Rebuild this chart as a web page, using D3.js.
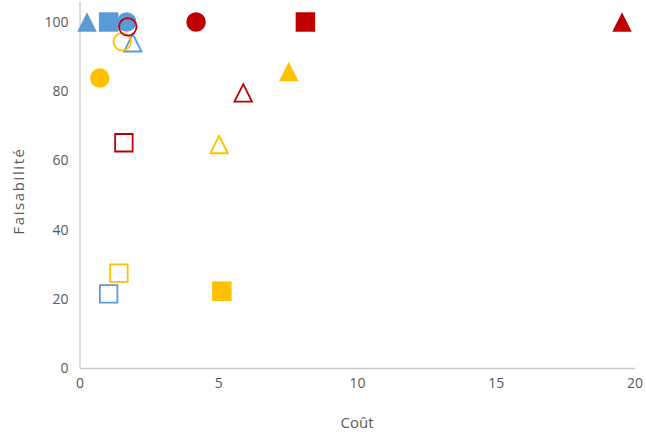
<!DOCTYPE html>
<html>
<head>
<meta charset="utf-8">
<script src="https://cdn.jsdelivr.net/npm/d3@7"></script>
<style>
  html, body { margin: 0; padding: 0; background: #fff; }
  svg { display: block; }
</style>
</head>
<body>
<svg id="chart" width="646" height="432"></svg>
<script>
// ---- Data ----
const xTicks = [0, 5, 10, 15, 20];
const yTicks = [0, 20, 40, 60, 80, 100];
const xTitle = "Coût";
const yTitle = "Faisabilité";

const bleuX      = [0.27, 1.05, 1.70, 1.92, 1.05];
const bleuY      = [100, 100, 100, 94.0, 21.4];
const bleuShape  = ["triangle", "square", "circle", "triangle", "square"];
const bleuFilled = [true, true, true, false, false];

const jauneX      = [0.73, 1.54, 1.42, 5.13, 5.03, 7.54];
const jauneY      = [83.8, 94.3, 27.4, 22.2, 64.6, 85.7];
const jauneShape  = ["circle", "circle", "square", "square", "triangle", "triangle"];
const jauneFilled = [true, false, false, true, false, true];

const rougeX      = [1.74, 4.20, 8.14, 5.90, 1.60, 19.55];
const rougeY      = [98.6, 100, 100, 79.5, 65.1, 100];
const rougeShape  = ["circle", "circle", "square", "triangle", "square", "triangle"];
const rougeFilled = [false, true, true, false, false, true];

// ---- Build series ----
const series = [
  { name: "bleu",  color: "#5B9BD5", x: bleuX,  y: bleuY,  shape: bleuShape,  filled: bleuFilled },
  { name: "jaune", color: "#FFC000", x: jauneX, y: jauneY, shape: jauneShape, filled: jauneFilled },
  { name: "rouge", color: "#C00000", x: rougeX, y: rougeY, shape: rougeShape, filled: rougeFilled }
];

const svg = d3.select("#chart");
const font = "'Open Sans', 'Liberation Sans', sans-serif";

const x = d3.scaleLinear().domain([0, 20]).range([79.5, 634.5]);
const yPerUnit = (368 - 22) / 100;
const y = d3.scaleLinear().domain([0, 106]).range([368, 368 - yPerUnit * 106]);

// Axes
const xAxis = d3.axisBottom(x).tickValues(xTicks).tickSize(0).tickPadding(10);
const yAxis = d3.axisLeft(y).tickValues(yTicks).tickSize(0).tickPadding(11);

const gx = svg.append("g").attr("transform", `translate(0,${y(0)})`).call(xAxis);
const gy = svg.append("g").attr("transform", `translate(${x(0)},0)`).call(yAxis);

[gx, gy].forEach(g => {
  g.select(".domain").attr("stroke", "#C9C9C9").attr("stroke-width", 1.3);
  g.selectAll("text")
    .attr("fill", "#595959")
    .style("font-family", font)
    .style("font-size", "14px");
});

// Axis titles
svg.append("text")
  .attr("x", (x(0) + x(20)) / 2)
  .attr("y", 428)
  .attr("text-anchor", "middle")
  .attr("fill", "#595959")
  .style("font-family", font)
  .style("font-size", "15px")
  .text(xTitle);

svg.append("text")
  .attr("transform", `translate(24,191) rotate(-90)`)
  .attr("text-anchor", "middle")
  .attr("fill", "#595959")
  .style("font-family", font)
  .style("font-size", "15px")
  .style("letter-spacing", "1.6px")
  .text(yTitle);

// Marker path generator
function markerPath(shape, filled) {
  const s = filled ? 19.5 : 17.5;
  const h = s / 2;
  if (shape === "square") {
    return `M${-h},${-h}H${h}V${h}H${-h}Z`;
  } else if (shape === "triangle") {
    return `M0,${-h}L${h},${h}L${-h},${h}Z`;
  } else {
    const r = h;
    return `M${r},0A${r},${r} 0 1,1 ${-r},0A${r},${r} 0 1,1 ${r},0Z`;
  }
}

const pts = [];
series.forEach(s => {
  s.x.forEach((xv, i) => {
    pts.push({ color: s.color, x: xv, y: s.y[i], shape: s.shape[i], filled: s.filled[i] });
  });
});

svg.append("g").selectAll("path.mark")
  .data(pts)
  .join("path")
  .attr("class", "mark")
  .attr("transform", d => `translate(${x(d.x)},${y(d.y)})`)
  .attr("d", d => markerPath(d.shape, d.filled))
  .attr("fill", d => d.filled ? d.color : "none")
  .attr("stroke", d => d.color)
  .attr("stroke-width", d => d.filled ? 0 : 1.8)
  .attr("stroke-linejoin", "miter");
</script>
</body>
</html>
